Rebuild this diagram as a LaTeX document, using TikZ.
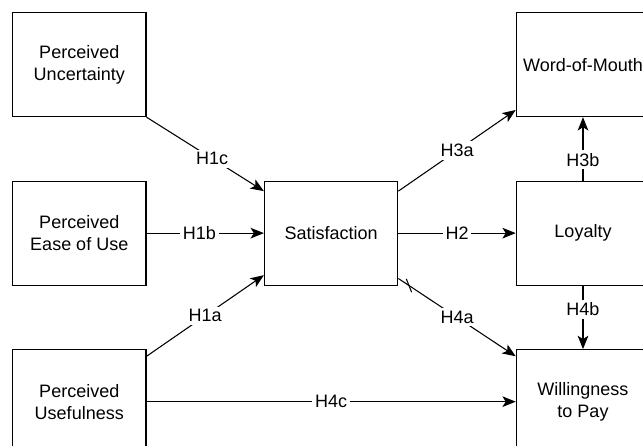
\documentclass[tikz,border=0pt]{standalone}
\usepackage{fontspec}
\setmainfont{Liberation Sans}
\usetikzlibrary{arrows.meta,positioning}

\begin{document}
\begin{tikzpicture}[
  node distance=47.5pt and 88pt,
  box/.style={
    draw,
    line width=0.9pt,
    align=center,
    minimum width=100pt,
    minimum height=78pt,
    inner sep=2pt,
    font=\fontsize{13.5}{16.5}\selectfont
  },
  arr/.style={
    -{Stealth[length=10pt,width=8pt,inset=2.5pt]},
    line width=0.8pt
  },
  hyp/.style={
    fill=white,
    inner sep=2pt,
    font=\fontsize{13.5}{15}\selectfont
  }
]

% Frame of the picture
\fill[white] (-9pt,9pt) rectangle (473.25pt,-325.5pt);
\clip (-9pt,9pt) rectangle (473.25pt,-325.5pt);

% Antecedents
\node[box, anchor=north west] (unc) at (0,0) {Perceived\\Uncertainty};
\node[box, below=of unc] (ease) {Perceived\\Ease of Use};
\node[box, below=of ease] (use) {Perceived\\Usefulness};

% Mediator
\node[box, right=of ease] (sat) {Satisfaction};

% Outcomes
\node[box, right=of sat] (loy) {Loyalty};
\node[box, above=of loy] (wom) {Word-of-Mouth};
\node[box, below=of loy] (wtp) {Willingness\\to Pay};

% Paths into satisfaction
\draw[arr] (unc.south east) -- node[hyp, pos=0.56] {H1c} (sat.148);
\draw[arr] (ease) -- node[hyp, pos=0.45] {H1b} (sat);
\draw[arr] (use.34) -- node[hyp] {H1a} (sat.212);

% Paths out of satisfaction
\draw[arr] (sat) -- node[hyp] {H2} (loy);
\draw[arr] (sat.32) -- node[hyp] {H3a} (wom.214);
\draw[arr] (sat.326) -- node[hyp] {H4a} (wtp.146);
\path (sat.326) -- (wtp.146) coordinate[pos=0.09] (tick);
\draw[line width=0.8pt] (tick) ++(-2pt,5pt) -- ++(4pt,-10pt);

% Loyalty paths
\draw[arr] (loy) -- node[hyp, pos=0.33] {H3b} (wom);
\draw[arr] (loy) -- node[hyp, pos=0.375] {H4b} (wtp);

% Direct path
\draw[arr] (use) -- node[hyp] {H4c} (wtp);

\end{tikzpicture}
\end{document}
